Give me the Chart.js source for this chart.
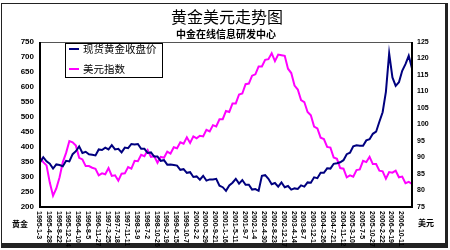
<!DOCTYPE html>
<html>
<head>
<meta charset="utf-8">
<script src="https://cdn.jsdelivr.net/npm/chart.js@4/dist/chart.umd.min.js"></script>
<style>
body{margin:0;background:#fff}
</style>
</head>
<body>
<canvas id="mycanvas" width="450" height="250"></canvas>
<script>
// x axis labels, one every 3 points
var dateLabels = ["1995-1-3","1995-4-28","1995-8-22","1995-12-14","1996-4-10","1996-8-5","1996-11-27","1997-3-25","1997-7-18","1997-11-11",
	"1998-3-9","1998-7-2","1998-10-26","1999-2-19","1999-6-15","1999-10-7","2000-2-2","2000-5-29","2000-9-21","2001-1-16",
	"2001-5-11","2001-9-7","2002-1-4","2002-4-30","2002-8-23","2002-12-17","2003-4-14","2003-8-7","2003-12-1","2004-3-26",
	"2004-7-21","2004-11-12","2005-3-10","2005-7-5","2005-10-27","2006-2-22","2006-6-19","2006-10-11"];

// spot gold close (left axis)
var gold = [348,366,352,344,328,342,340,336,354,352,
	376,386,402,380,384,376,374,372,392,390,
	398,392,406,392,394,382,398,396,410,408,
	410,394,394,380,382,368,368,354,356,341,
	342,340,338,324,326,314,316,300,302,291,
	304,288,292,292,294,271,266,254,272,281,
	294,278,290,274,274,258,260,254,304,306,
	294,276,280,268,282,266,270,258,262,260,
	272,268,282,281,299,296,314,314,329,328,
	344,346,349,356,376,381,402,406,404,404,
	422,426,444,451,484,516,584,712,632,604,
	616,654,676,704,662];

// dollar index (right axis)
var usd = [90.0,88.6,87.6,82.4,78.4,80.6,84.0,88.6,91.4,95.0,
	94.6,93.6,89.9,89.4,87.4,87.4,86.9,86.6,84.6,85.2,
	84.9,86.8,84.4,84.6,83.0,85.1,85.2,87.1,86.6,89.0,
	88.9,90.8,90.4,92.2,90.2,90.4,88.4,90.2,89.9,91.8,
	91.2,93.1,92.8,94.6,94.2,96.1,94.4,96.4,95.8,96.6,
	96.4,98.4,97.9,99.8,99.4,101.6,101.6,104.1,103.8,106.4,
	106.4,109.1,109.4,112.2,112.4,114.8,115.2,117.6,117.6,119.6,
	119.8,121.6,119.2,121.2,121.0,120.8,116.9,115.6,111.8,110.6,
	107.4,106.8,103.8,102.8,99.4,98.8,96.0,95.6,93.2,93.0,
	90.0,89.6,86.8,86.6,84.0,84.6,84.2,86.2,86.4,89.0,
	88.6,90.2,88.0,88.0,86.0,85.8,83.6,85.6,85.4,86.0,
	84.0,84.2,82.2,82.6,82.0];

var title = "黄金美元走势图";
var subtitle = "中金在线信息研发中心";
var cjk = '"Noto Sans CJK SC", sans-serif';

function toPoints(arr){
	var out = [];
	for(var i in arr) {
		out.push({x: Number(i), y: arr[i]});
	}
	return out;
}

var deco = {
	id: 'deco',
	afterDraw: function(chart){
		var c = chart.ctx;
		var a = chart.chartArea;
		var xs = chart.scales.x;
		c.save();

		// outer frame
		c.fillStyle = '#222';
		c.fillRect(1, 3, 1, 244);
		c.fillRect(1, 3, 446, 1);
		c.fillRect(445, 3, 3, 245);
		c.fillRect(1, 243, 447, 5);

		// plot border
		c.fillStyle = '#555';
		c.fillRect(a.left, a.top, a.right - a.left, 1);
		c.fillStyle = '#000';
		c.fillRect(a.left - 1, a.top, 2, a.bottom - a.top + 1);
		c.fillRect(a.right - 1, a.top, 2, a.bottom - a.top + 1);
		c.fillRect(a.left - 1, a.bottom - 1, a.right - a.left + 2, 2);

		// titles
		c.fillStyle = '#000';
		c.textAlign = 'center';
		c.textBaseline = 'middle';
		c.font = '16px ' + cjk;
		c.fillText(title, 227, 17);
		c.font = 'bold 10px ' + cjk;
		c.fillText(subtitle, 226, 34);

		// x labels, rotated to read downwards
		c.font = 'bold 7px Arial';
		c.textAlign = 'left';
		for(var i = 0; i < dateLabels.length; i++) {
			var px = xs.getPixelForValue(i * 3);
			c.save();
			c.translate(px - 1, a.bottom + 4);
			c.rotate(Math.PI / 2);
			c.fillText(dateLabels[i], 0, 0);
			c.restore();
		}

		// axis unit labels
		c.font = 'bold 8px ' + cjk;
		c.textAlign = 'center';
		c.fillText('黄金', 20, 224);
		c.fillText('美元', 426, 223);

		// legend
		c.fillStyle = '#fff';
		c.fillRect(65, 43, 97, 34);
		c.strokeStyle = '#000';
		c.lineWidth = 1;
		c.strokeRect(65.5, 43.5, 97, 34);
		c.textAlign = 'left';
		c.font = '10.5px ' + cjk;
		chart.data.datasets.forEach(function(ds, k){
			var ly = 49 + k * 20;
			c.strokeStyle = ds.borderColor;
			c.lineWidth = 2;
			c.beginPath();
			c.moveTo(69, ly);
			c.lineTo(79, ly);
			c.stroke();
			c.fillStyle = '#000';
			c.fillText(ds.label, 83, ly);
		});
		c.restore();
	}
};

var ctx = document.getElementById('mycanvas');

var chart = new Chart(ctx, {
	type: 'line',
	data: {
		datasets: [
			{
				label: '现货黄金收盘价',
				data: toPoints(gold),
				borderColor: '#00007f',
				borderWidth: 2,
				pointRadius: 0,
				yAxisID: 'y'
			},
			{
				label: '美元指数',
				data: toPoints(usd),
				borderColor: '#ff00ff',
				borderWidth: 2,
				pointRadius: 0,
				yAxisID: 'y1'
			}
		]
	},
	options: {
		responsive: false,
		animation: false,
		layout: {padding: {top: 42, left: 0, right: 0, bottom: 0}},
		plugins: {legend: {display: false}, tooltip: {enabled: false}},
		scales: {
			x: {
				type: 'linear', min: 0, max: 114,
				grid: {display: false}, border: {display: false},
				ticks: {display: false},
				afterFit: function(s){ s.height = 43; }
			},
			y: {
				position: 'left', min: 200, max: 750,
				grid: {display: false, drawTicks: false}, border: {display: false},
				ticks: {stepSize: 50, padding: 6, color: '#000', font: {size: 8, weight: 'bold', family: 'Arial'}},
				afterFit: function(s){ s.width = 40; }
			},
			y1: {
				position: 'right', min: 75, max: 125,
				grid: {display: false, drawTicks: false}, border: {display: false},
				ticks: {stepSize: 5, padding: 5, color: '#000', font: {size: 7, weight: 'bold', family: 'Arial'}},
				afterFit: function(s){ s.width = 38; }
			}
		}
	},
	plugins: [deco]
});
</script>
</body>
</html>
